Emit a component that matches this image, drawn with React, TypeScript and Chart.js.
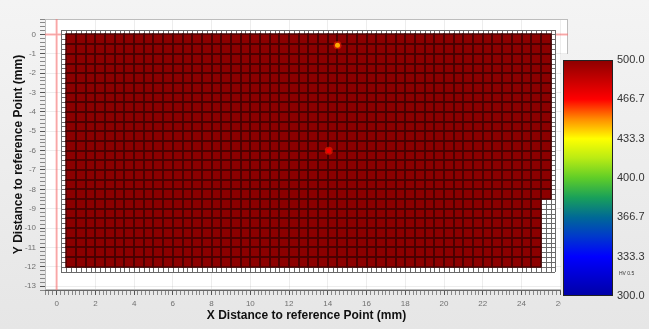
import React, { useEffect, useRef } from "react";
import { Chart, registerables } from "chart.js";

Chart.register(...registerables);

// ---------------- data ----------------
const FONT = '"Liberation Sans", Arial, Helvetica, sans-serif';

// major tick labels (mm)
const xMajor = [0, 2, 4, 6, 8, 10, 12, 14, 16, 18, 20, 22, 24, 26];
const yMajor = [0, -1, -2, -3, -4, -5, -6, -7, -8, -9, -10, -11, -12, -13];

// measurement cell centres (0.5 mm pitch)
const cellX = Array.from({ length: 50 }, (_, i) => 0.75 + i * 0.5);
const cellY = Array.from({ length: 24 }, (_, i) => -0.25 - i * 0.5);
// hardness of the bulk cells (HV 0.5) - at the top of the colour scale
const bulkHV = 500;
// cells without a reading (bottom-right notch)
const missingX = [25.25, 25.25, 25.25, 25.25, 25.25, 25.25, 25.25];
const missingY = [-8.75, -9.25, -9.75, -10.25, -10.75, -11.25, -11.75];
// local softer readings
const spotX = [14.5, 14.05];
const spotY = [-0.55, -6.0];
const spotHV = [446, 470];

// sample outline mesh
const meshX = [0.25, 25.75];
const meshY = [0.25, -12.25];
const meshPitch = 0.25;

// colour bar
const cbTicks = [500.0, 466.7, 433.3, 400.0, 366.7, 333.3, 300.0];
const cbUnit = "HV 0.5";
const stopHV = [300, 333.3, 350, 366.7, 383.3, 400, 416.7, 433.3, 450, 466.7, 500];
const stopRGB = [
  [0, 0, 165], [0, 0, 255], [0, 55, 205], [0, 105, 150], [25, 160, 90],
  [95, 205, 40], [185, 235, 20], [255, 255, 0], [255, 140, 0], [255, 0, 0], [140, 0, 0],
];

// ---------------- helpers ----------------
const W = 649;
const H = 329;

function colormap(v: number): string {
  if (v <= stopHV[0]) return `rgb(${stopRGB[0].join(",")})`;
  const n = stopHV.length;
  if (v >= stopHV[n - 1]) return `rgb(${stopRGB[n - 1].join(",")})`;
  for (let i = 0; i < n - 1; i++) {
    if (v >= stopHV[i] && v <= stopHV[i + 1]) {
      const t = (v - stopHV[i]) / (stopHV[i + 1] - stopHV[i]);
      const c = stopRGB[i].map((a, k) => Math.round(a + (stopRGB[i + 1][k] - a) * t));
      return `rgb(${c.join(",")})`;
    }
  }
  return "#000";
}

const near = (a: number, b: number) => Math.abs(a - b) < 1e-6;
const isXMajor = (v: number) => xMajor.some((m) => near(m, v));
const isYMajor = (v: number) => yMajor.some((m) => near(m, v));

function bgGradient(ctx: CanvasRenderingContext2D) {
  const g = ctx.createLinearGradient(0, 0, 0, H);
  g.addColorStop(0, "#f4f4f4");
  g.addColorStop(1, "#e6e6e6");
  return g;
}

const mapPlugin = {
  id: "hardnessMap",
  beforeDraw(chart: any) {
    const { ctx, chartArea: a } = chart;
    ctx.save();
    ctx.fillStyle = bgGradient(ctx);
    ctx.fillRect(0, 0, W, H);
    ctx.fillStyle = "#ffffff";
    ctx.fillRect(a.left, a.top, a.right - a.left, a.bottom - a.top);
    ctx.restore();
  },
  beforeDatasetsDraw(chart: any) {
    const { ctx, chartArea: a, scales } = chart;
    const xs = scales.x;
    const ys = scales.y;
    ctx.save();
    // frame
    ctx.strokeStyle = "#bdbdbd";
    ctx.lineWidth = 1;
    ctx.strokeRect(a.left + 0.5, a.top + 0.5, a.right - a.left - 1, a.bottom - a.top - 1);

    // reference lines through the origin
    ctx.strokeStyle = "rgba(255,110,110,0.55)";
    ctx.lineWidth = 2;
    const x0 = xs.getPixelForValue(0);
    const y0 = ys.getPixelForValue(0);
    ctx.beginPath();
    ctx.moveTo(x0, a.top);
    ctx.lineTo(x0, a.bottom);
    ctx.moveTo(a.left, y0);
    ctx.lineTo(a.right, y0);
    ctx.stroke();

    // outline mesh
    const mL = Math.round(xs.getPixelForValue(meshX[0]));
    const mR = Math.round(xs.getPixelForValue(meshX[1]));
    const mT = Math.round(ys.getPixelForValue(meshY[0]));
    const mB = Math.round(ys.getPixelForValue(meshY[1]));
    ctx.fillStyle = "#ffffff";
    ctx.fillRect(mL, mT, mR - mL, mB - mT);
    ctx.strokeStyle = "#6a6a6a";
    ctx.lineWidth = 1;
    ctx.beginPath();
    for (let v = meshX[0]; v <= meshX[1] + 1e-9; v += meshPitch) {
      const px = Math.round(xs.getPixelForValue(v)) + 0.5;
      ctx.moveTo(px, mT);
      ctx.lineTo(px, mB);
    }
    for (let v = meshY[0]; v >= meshY[1] - 1e-9; v -= meshPitch) {
      const py = Math.round(ys.getPixelForValue(v)) + 0.5;
      ctx.moveTo(mL, py);
      ctx.lineTo(mR, py);
    }
    ctx.stroke();

    // measured cells
    const hx = (cellX[1] - cellX[0]) / 2;
    const hy = Math.abs(cellY[1] - cellY[0]) / 2;
    const missing = new Set(missingX.map((mx, i) => `${mx}|${missingY[i]}`));
    const rects: number[][] = [];
    for (const cx of cellX) {
      for (const cy of cellY) {
        if (missing.has(`${cx}|${cy}`)) continue;
        const l = Math.round(xs.getPixelForValue(cx - hx));
        const r = Math.round(xs.getPixelForValue(cx + hx));
        const t = Math.round(ys.getPixelForValue(cy + hy));
        const b = Math.round(ys.getPixelForValue(cy - hy));
        rects.push([l, t, r - l, b - t]);
      }
    }
    ctx.fillStyle = colormap(bulkHV);
    for (const rc of rects) ctx.fillRect(rc[0], rc[1], rc[2], rc[3]);
    ctx.strokeStyle = "rgb(72,0,0)";
    ctx.lineWidth = 1.5;
    for (const rc of rects) ctx.strokeRect(rc[0], rc[1], rc[2], rc[3]);
    ctx.restore();
  },
  afterDraw(chart: any) {
    const { ctx } = chart;
    ctx.save();
    // colour bar panel
    ctx.fillStyle = bgGradient(ctx);
    ctx.fillRect(561, 54, W - 561, H - 54);
    const cbL = 563, cbR = 613, cbT = 60, cbB = 296;
    const hvMax = Math.max(...cbTicks);
    const hvMin = Math.min(...cbTicks);
    const g = ctx.createLinearGradient(0, cbT, 0, cbB);
    stopHV.forEach((v, i) => {
      g.addColorStop((hvMax - v) / (hvMax - hvMin), `rgb(${stopRGB[i].join(",")})`);
    });
    ctx.fillStyle = g;
    ctx.fillRect(cbL, cbT, cbR - cbL, cbB - cbT);
    ctx.strokeStyle = "#222";
    ctx.lineWidth = 1;
    ctx.strokeRect(cbL + 0.5, cbT + 0.5, cbR - cbL - 1, cbB - cbT - 1);
    ctx.fillStyle = "#333";
    ctx.font = `11px ${FONT}`;
    ctx.textAlign = "left";
    ctx.textBaseline = "middle";
    for (const v of cbTicks) {
      const py = cbT + ((hvMax - v) / (hvMax - hvMin)) * (cbB - cbT);
      ctx.fillText(v.toFixed(1), 617, py);
    }
    ctx.font = `5px ${FONT}`;
    ctx.fillText(cbUnit, 619, 274);
    ctx.restore();
  },
};

export default function App() {
  const ref = useRef<HTMLCanvasElement | null>(null);
  useEffect(() => {
    if (!ref.current) return;
    const chart = new Chart(ref.current, {
      type: "scatter",
      data: {
        datasets: [
          {
            data: spotX.map((x, i) => ({ x, y: spotY[i] })),
            backgroundColor: spotHV.map((v) => colormap(v)),
            borderWidth: 0,
            pointRadius: 2.5,
          },
          {
            data: spotX.map((x, i) => ({ x, y: spotY[i] })),
            backgroundColor: "rgba(255,40,0,0.55)",
            borderWidth: 0,
            pointRadius: 4,
          },
        ],
      },
      options: {
        responsive: false,
        animation: false,
        devicePixelRatio: 1,
        layout: { padding: { left: 0, top: 19, right: 81, bottom: 0 } },
        plugins: { legend: { display: false }, tooltip: { enabled: false } },
        events: [],
        scales: {
          x: {
            type: "linear",
            position: "bottom",
            min: -0.6,
            max: 26.4,
            afterFit: (s: any) => {
              s.height = 39;
            },
            ticks: {
              stepSize: 0.2,
              autoSkip: false,
              maxRotation: 0,
              minRotation: 0,
              padding: 4,
              color: "#707070",
              font: { size: 8, family: FONT },
              callback: (v: any) => {
                const m = xMajor.find((mm) => near(mm, Number(v)));
                return m === undefined ? "" : String(m);
              },
            },
            grid: {
              drawOnChartArea: true,
              tickLength: 5,
              lineWidth: 1,
              color: (c: any) => (c.tick && isXMajor(c.tick.value) ? "rgba(0,0,0,0.07)" : "rgba(0,0,0,0)"),
              tickColor: (c: any) => (c.tick && isXMajor(c.tick.value) ? "#555" : "#888"),
            },
            border: { display: true, color: "#666", width: 1 },
            title: {
              display: true,
              text: "X Distance to reference Point (mm)",
              color: "#111",
              font: { size: 12, weight: "bold", family: FONT },
              padding: { top: 0, bottom: 6 },
            },
          },
          y: {
            type: "linear",
            position: "left",
            min: -13.2,
            max: 0.8,
            afterFit: (s: any) => {
              s.width = 45;
            },
            ticks: {
              stepSize: 0.2,
              autoSkip: false,
              padding: 4,
              color: "#707070",
              font: { size: 8, family: FONT },
              callback: (v: any) => {
                const m = yMajor.find((mm) => near(mm, Number(v)));
                return m === undefined ? "" : String(m);
              },
            },
            grid: {
              drawOnChartArea: true,
              tickLength: 5,
              lineWidth: 1,
              color: (c: any) => (c.tick && isYMajor(c.tick.value) ? "rgba(0,0,0,0.07)" : "rgba(0,0,0,0)"),
              tickColor: (c: any) => (c.tick && isYMajor(c.tick.value) ? "#555" : "#888"),
            },
            border: { display: true, color: "#666", width: 1 },
            title: {
              display: true,
              text: "Y Distance to reference Point (mm)",
              color: "#111",
              font: { size: 12, weight: "bold", family: FONT },
              padding: { top: 11, bottom: 0 },
            },
          },
        },
      },
      plugins: [mapPlugin],
    } as any);
    return () => chart.destroy();
  }, []);

  return (
    <div style={{ position: "fixed", left: 0, top: 0, width: W, height: H }}>
      <canvas ref={ref} width={W} height={H} style={{ width: W, height: H, display: "block" }} />
    </div>
  );
}
